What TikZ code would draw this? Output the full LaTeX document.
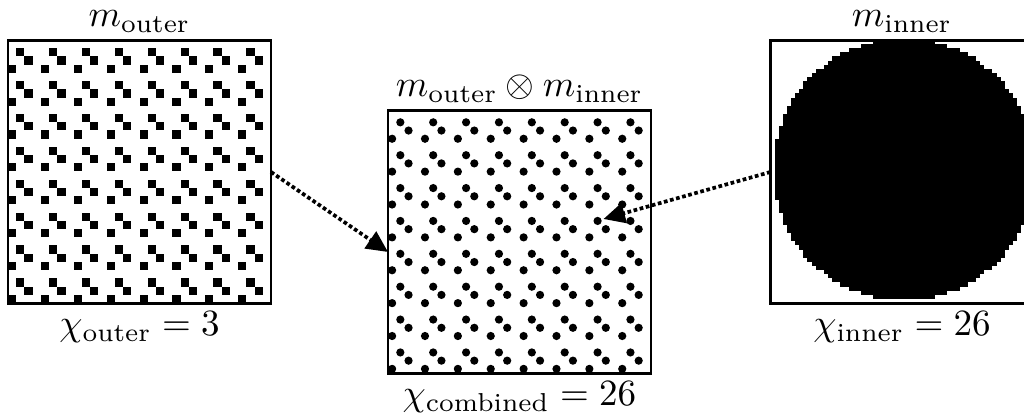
\documentclass[tikz,border=0pt]{standalone}
\usepackage{amsmath}
\usetikzlibrary{arrows.meta,positioning,calc}
\tikzset{
  maskbox/.style={draw,line width=0.6pt,minimum size=71pt,inner sep=0pt,outer sep=0pt},
  masklabel/.style={font=\normalsize,inner sep=1pt},
  dotarrow/.style={line width=1pt,dash pattern=on 1pt off 0.7pt,-{Triangle[length=5.8pt,width=5.4pt]}}
}

\begin{document}
\begin{tikzpicture}[x=0.27pt,y=-0.27pt]
  \useasboundingbox (0,0) rectangle (1024,414);
  \clip (0,0) rectangle (1024,414);

  % the three masks
  \node[maskbox] (outer) at (139.5,172) {};
  \node[maskbox] (comb) at (519.5,242) {};
  \node[maskbox] (inner) at (902,172) {};

  % outer mask: 8x8 tiles of three squares
  \begin{scope}[shift={(8,40)},scale=263/64]
    \clip (0,0) rectangle (64,64);
    \foreach \i in {0,...,7}{
      \foreach \j in {0,...,7}{
        \fill (8*\i+2,8*\j+2) rectangle ++(2,2);
        \fill (8*\i+4,8*\j+4) rectangle ++(2,2);
        \fill (8*\i,8*\j+6) rectangle ++(2,2);
      }
    }
  \end{scope}

  % combined mask: same tiles, round dots
  \begin{scope}[shift={(388,110)},scale=263/64]
    \clip (0,0) rectangle (64,64);
    \foreach \i in {0,...,7}{
      \foreach \j in {0,...,7}{
        \fill (8*\i+3,8*\j+3) circle[radius=1];
        \fill (8*\i+5,8*\j+5) circle[radius=1];
        \fill (8*\i+1,8*\j+7) circle[radius=1];
      }
    }
  \end{scope}

  % inner mask: pixelated disk, row by row
  \begin{scope}[shift={(770.5,40)},scale=263/64]
    \foreach \j in {0,...,63}{
      \pgfmathsetmacro\dy{\j+0.5-31.5}
      \pgfmathsetmacro\hh{31.95*31.95-\dy*\dy}
      \ifdim\hh pt>0pt
        \pgfmathsetmacro\hw{sqrt(\hh)}
        \pgfmathsetmacro\ia{ceil(32-\hw)}
        \pgfmathsetmacro\ib{floor(32+\hw)+1}
        \fill (\ia,\j) rectangle (\ib,\j+1);
      \fi
    }
  \end{scope}
  \node[maskbox] at (inner) {};

  % titles and counts
  \node[masklabel,above=1pt of outer] (outertitle) {$m_{\text{outer}}$};
  \node[masklabel,above=1pt of comb] (combtitle) {$m_{\text{outer}}\otimes m_{\text{inner}}$};
  \node[masklabel,above=1pt of inner] (innertitle) {$m_{\text{inner}}$};
  \node[masklabel,below=1pt of outer] (outerchi) {$\chi_{\text{outer}}=3$};
  \node[masklabel,below=1pt of comb] (combchi) {$\chi_{\text{combined}}=26$};
  \node[masklabel,below=1pt of inner] (innerchi) {$\chi_{\text{inner}}=26$};

  % arrows
  \coordinate (combin) at ($(comb.west)+(0,10)$);
  \coordinate (combdot) at ($(comb.center)+(84,-23)$);
  \draw[dotarrow] (outer.east) -- (combin);
  \draw[dotarrow] (inner.west) -- (combdot);
\end{tikzpicture}
\end{document}
